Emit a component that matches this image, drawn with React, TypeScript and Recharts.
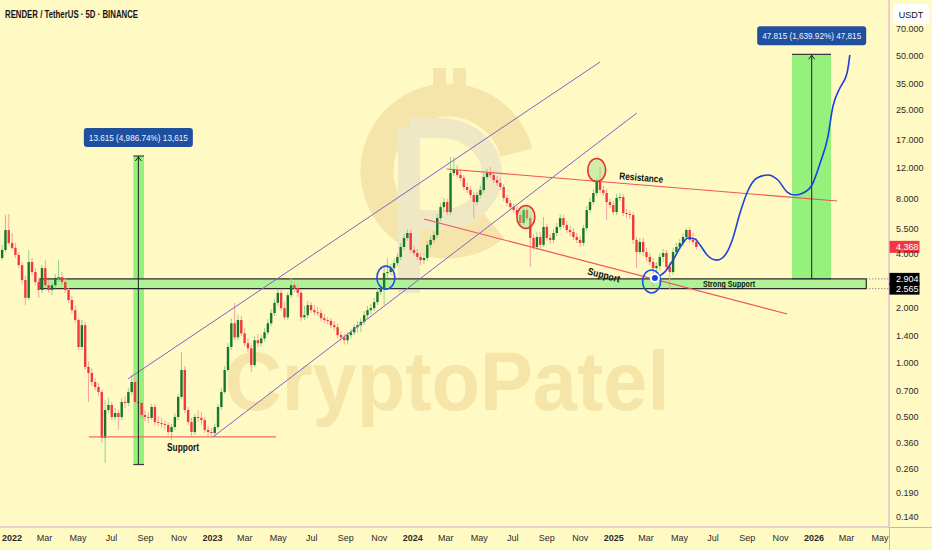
import React from "react";
import {
  ComposedChart,
  Bar,
  Line,
  XAxis,
  YAxis,
  ReferenceArea,
  ReferenceLine,
  ReferenceDot,
} from "recharts";

// ---- axis setup (days since 2022-01-01, price in USDT on a log scale)
const X_MIN = -21.9;
const X_MAX = 1597.4;
const Y_MIN = 0.1232;
const Y_MAX = 101.3;

const X_TICKS = [
  0, 59, 120, 181, 243, 304, 365, 424, 485, 546, 608, 669, 730, 790, 851, 912,
  974, 1035, 1096, 1155, 1216, 1277, 1339, 1400, 1461, 1520, 1581,
];
const X_TICK_LABELS = [
  "2022", "Mar", "May", "Jul", "Sep", "Nov",
  "2023", "Mar", "May", "Jul", "Sep", "Nov",
  "2024", "Mar", "May", "Jul", "Sep", "Nov",
  "2025", "Mar", "May", "Jul", "Sep", "Nov",
  "2026", "Mar", "May",
];
const Y_TICKS = [70, 50, 35, 25, 17, 12, 8, 5.5, 4, 2, 1.4, 1, 0.7, 0.5, 0.36, 0.26, 0.19, 0.14];

// ---- candles
const START_DAY = -18;
const CANDLE_DAYS = 6.05;
const firstOpen = 3.79;

const closes = [
  4.2, 5.41, 4.59, 4.31, 3.94, 3.46, 2.86, 2.28, 3.6, 3.17,
  2.79, 2.52, 3.33, 2.68, 2.52, 2.68, 2.94, 2.97, 2.79, 2.52,
  2.22, 1.95, 1.72, 1.22, 1.61, 0.946, 0.876, 0.781, 0.733, 0.688,
  0.383, 0.547, 0.583, 0.5, 0.526, 0.5, 0.605, 0.598, 0.688, 0.781,
  0.605, 0.598, 0.513, 0.5, 0.494, 0.568, 0.469, 0.463, 0.458, 0.452,
  0.413, 0.44, 0.5, 0.646, 0.91, 0.547, 0.469, 0.413, 0.5, 0.494,
  0.481, 0.424, 0.413, 0.408, 0.44, 0.568, 0.688, 0.91, 1.22, 1.65,
  1.38, 1.72, 1.45, 1.28, 1.2, 0.97, 1.33, 1.28, 1.36, 1.47,
  1.65, 1.88, 2.14, 2.43, 2.0, 1.78, 2.36, 2.68, 2.58, 2.43,
  1.78, 1.83, 2.08, 1.95, 1.9, 1.88, 1.76, 1.72, 1.7, 1.61,
  1.57, 1.42, 1.38, 1.33, 1.42, 1.47, 1.57, 1.61, 1.68, 1.83,
  1.95, 2.0, 2.16, 2.46, 2.58, 3.13, 3.17, 3.33, 3.55, 3.84,
  4.36, 4.89, 5.21, 4.2, 4.04, 3.84, 3.69, 3.79, 4.48, 4.77,
  5.08, 6.3, 7.25, 7.73, 6.8, 11.18, 11.62, 10.9, 10.49, 9.36,
  9.01, 8.45, 7.73, 8.45, 9.01, 10.63, 11.18, 10.9, 10.23, 9.85,
  9.36, 8.14, 7.63, 7.25, 6.98, 6.55, 5.92, 6.98, 6.3, 4.89,
  4.36, 4.95, 4.48, 5.63, 4.89, 4.77, 5.21, 5.63, 6.3, 5.77,
  5.41, 5.27, 4.95, 4.77, 4.59, 5.55, 6.98, 7.73, 8.67, 9.97,
  9.01, 8.67, 7.73, 7.44, 6.8, 8.14, 8.24, 6.72, 6.63, 6.55,
  4.77, 4.09, 4.65, 4.09, 3.84, 3.6, 3.33, 3.42, 3.84, 4.04,
  3.38, 3.17, 4.09, 4.36, 4.59, 4.95, 5.41, 4.77, 4.65, 4.36,
];

const highs = [
  4.48, 6.55, 6.63, 5.21, 4.59, 4.09, 3.6, 3.01, 4.2, 3.79,
  3.33, 2.94, 3.46, 3.69, 2.86, 2.79, 3.09, 3.69, 3.17, 2.94,
  2.58, 2.33, 2.06, 1.76, 1.72, 1.68, 1.01, 0.934, 0.822, 0.771,
  0.706, 0.621, 0.638, 0.605, 0.561, 0.547, 0.638, 0.654, 0.723, 0.854,
  0.822, 0.638, 0.621, 0.547, 0.533, 0.59, 0.59, 0.507, 0.494, 0.481,
  0.469, 0.458, 0.526, 0.671, 1.14, 0.958, 0.568, 0.494, 0.52, 0.547,
  0.533, 0.5, 0.446, 0.435, 0.458, 0.59, 0.723, 0.958, 1.28, 1.76,
  2.14, 1.83, 1.81, 1.55, 1.36, 1.25, 1.4, 1.44, 1.42, 1.55,
  1.74, 1.98, 2.25, 2.55, 2.52, 2.16, 2.46, 2.94, 2.79, 2.72,
  2.52, 2.06, 2.19, 2.16, 2.08, 2.03, 1.98, 1.85, 1.78, 1.76,
  1.7, 1.65, 1.49, 1.45, 1.47, 1.53, 1.63, 1.7, 1.76, 1.93,
  2.06, 2.11, 2.28, 2.58, 2.72, 3.33, 3.79, 3.51, 3.75, 4.04,
  4.59, 5.14, 5.48, 5.41, 4.42, 4.25, 4.04, 3.99, 4.71, 5.01,
  5.34, 6.63, 7.63, 8.14, 8.03, 13.72, 13.72, 12.39, 11.62, 10.9,
  9.85, 9.48, 8.78, 8.78, 9.48, 11.18, 11.77, 12.07, 11.47, 10.77,
  10.49, 9.72, 8.45, 7.93, 7.54, 7.35, 6.8, 7.35, 7.44, 6.55,
  5.14, 5.27, 5.27, 6.38, 5.84, 5.14, 5.48, 5.92, 6.63, 6.55,
  6.07, 5.7, 5.55, 5.21, 5.01, 5.77, 7.35, 8.14, 9.12, 10.49,
  12.07, 9.48, 9.12, 8.03, 7.83, 8.56, 8.67, 8.56, 7.07, 6.98,
  6.8, 4.95, 4.89, 4.89, 4.31, 4.04, 3.79, 3.6, 4.04, 4.25,
  4.2, 3.6, 4.31, 4.59, 4.82, 5.21, 5.55, 5.63, 5.21, 4.89,
];

const lows = [
  3.69, 4.09, 4.48, 4.2, 3.79, 3.33, 2.72, 2.08, 2.22, 3.05,
  2.68, 2.28, 2.43, 2.58, 2.43, 2.36, 2.58, 2.79, 2.68, 2.43,
  2.14, 1.88, 1.65, 1.174, 1.174, 0.91, 0.605, 0.742, 0.706, 0.654,
  0.36, 0.278, 0.526, 0.481, 0.481, 0.424, 0.481, 0.561, 0.575, 0.662,
  0.583, 0.561, 0.494, 0.475, 0.463, 0.481, 0.452, 0.446, 0.435, 0.424,
  0.398, 0.373, 0.424, 0.481, 0.63, 0.526, 0.452, 0.393, 0.398, 0.469,
  0.452, 0.408, 0.393, 0.388, 0.388, 0.429, 0.547, 0.671, 0.887, 1.174,
  1.33, 1.33, 1.4, 1.23, 1.14, 0.887, 0.946, 1.22, 1.23, 1.31,
  1.42, 1.59, 1.81, 2.06, 1.93, 1.72, 1.72, 2.28, 2.46, 2.31,
  1.7, 1.72, 1.76, 1.88, 1.83, 1.81, 1.7, 1.65, 1.63, 1.55,
  1.51, 1.36, 1.33, 1.26, 1.26, 1.36, 1.42, 1.47, 1.47, 1.61,
  1.76, 1.85, 1.93, 2.08, 2.36, 2.08, 2.94, 3.05, 3.21, 3.42,
  3.69, 4.2, 4.71, 4.04, 3.89, 3.69, 3.46, 3.51, 3.64, 4.31,
  4.59, 4.89, 6.07, 6.8, 6.55, 6.55, 10.77, 10.49, 10.1, 9.01,
  8.67, 8.14, 6.3, 7.44, 8.14, 8.67, 10.23, 10.49, 9.85, 9.48,
  9.01, 7.83, 7.35, 6.98, 6.72, 6.3, 5.7, 5.77, 6.07, 3.38,
  4.2, 4.2, 4.31, 4.36, 4.71, 4.53, 4.59, 5.01, 5.41, 5.55,
  5.21, 5.01, 4.77, 4.59, 4.36, 4.42, 5.34, 6.72, 7.44, 8.35,
  8.67, 8.35, 6.15, 7.16, 6.55, 6.55, 7.83, 6.47, 6.3, 6.22,
  4.53, 3.33, 3.94, 3.89, 3.64, 3.46, 2.62, 2.86, 3.25, 3.6,
  3.25, 2.52, 3.05, 3.94, 4.2, 4.42, 4.77, 4.59, 4.48, 4.2,
];

// ---- projected path (blue curve)
const projDays = [
  1171, 1189, 1204, 1220, 1231, 1244, 1253, 1266, 1284, 1299, 1312, 1326,
  1341, 1357, 1377, 1395, 1412, 1426, 1441, 1457, 1472, 1486, 1495, 1508, 1521, 1526,
];
const projPrices = [
  2.94, 3.17, 3.69, 4.48, 4.89, 4.82, 4.48, 3.94, 3.69, 3.94, 4.77, 6.72,
  9.01, 10.49, 10.9, 10.23, 8.78, 8.45, 8.67, 9.6, 12.72, 17.69, 25.93, 33.03, 39.97, 50.27,
];

// ---- drawn levels and trend lines: [day, price] pairs
const supportLow = [[140, 0.388], [481, 0.388]];
const channelUpper = [[211, 0.812], [1071, 45.98]];
const channelLower = [[366, 0.388], [1138, 24.0]];
const resistanceLine = [[792, 11.77], [1503, 7.83]];
const supportLine = [[750, 6.23], [1412, 1.857]];
const strongSupport = { from: 51, to: 1556, low: 2.565, high: 2.904 };

// measurement boxes: [dayFrom, dayTo, arrowDay, priceLow, priceHigh, label]
const measures: [number, number, number, number, number, string][] = [
  [221, 240.4, 230.1, 0.273, 13.888, "13.615 (4,986.74%) 13,615"],
  [1420.8, 1491.8, 1456.6, 2.9157, 50.73, "47.815 (1,639.92%) 47,815"],
];

const redCircles = [[936, 6.39], [1065, 11.62]];
const blueCircles = [[681, 2.95], [1165, 2.81]];

const lastPrice = 4.368;

const BG = "#fff9c4";
const UP_BODY = "#17762b";
const UP_WICK = "#8fd48a";
const DOWN_BODY = "#f2383e";
const DOWN_WICK = "#f5a2a2";
const AXIS = "#d6a4d8";
const FONT = "'Liberation Sans', Arial, sans-serif";
const CHART_W = 932;
const CHART_H = 550;

const candles = closes.map((c, i) => ({
  t: START_DAY + i * CANDLE_DAYS,
  open: i === 0 ? firstOpen : closes[i - 1],
  close: c,
  high: highs[i],
  low: lows[i],
  range: [lows[i], highs[i]],
}));

const projection = projDays.map((t, i) => ({ t, price: projPrices[i] }));

function Candle(props: any) {
  const { x, y, width, height, payload } = props;
  if (x == null || y == null || !payload) return null;
  const { open, close, high, low } = payload;
  const top = Math.log(high);
  const span = top - Math.log(low);
  const toY = (v: number) => (span > 0 ? y + (height * (top - Math.log(v))) / span : y);
  const cx = x + width / 2;
  const up = close >= open;
  const yo = toY(open);
  const yc = toY(close);
  return (
    <g>
      <line x1={cx} x2={cx} y1={y} y2={y + height} stroke={up ? UP_WICK : DOWN_WICK} strokeWidth={1} />
      <rect
        x={cx - 1.2}
        y={Math.min(yo, yc)}
        width={2.4}
        height={Math.max(1, Math.abs(yc - yo))}
        fill={up ? UP_BODY : DOWN_BODY}
      />
    </g>
  );
}

const textMark =
  (text: string, w: number, size = 10, rotate = 0) =>
  (p: any) => (
    <text
      x={p.cx}
      y={p.cy}
      textAnchor="middle"
      dominantBaseline="central"
      fontSize={size}
      fontWeight={700}
      fill="#111"
      fontFamily={FONT}
      textLength={w}
      lengthAdjust="spacingAndGlyphs"
      transform={rotate ? `rotate(${rotate} ${p.cx} ${p.cy})` : undefined}
    >
      {text}
    </text>
  );

const measureLabel = (text: string) => (p: any) => (
  <g>
    <rect x={p.cx - 54.5} y={p.cy - 28} width={109} height={19} rx={3} fill="#1f4f9f" />
    <text
      x={p.cx}
      y={p.cy - 18.5}
      textAnchor="middle"
      dominantBaseline="central"
      fontSize={9.5}
      fill="#eef2fb"
      fontFamily={FONT}
      textLength={99}
      lengthAdjust="spacingAndGlyphs"
    >
      {text}
    </text>
  </g>
);

const arrowHead = (p: any) => (
  <polyline
    points={`${p.cx - 3},${p.cy + 5} ${p.cx},${p.cy + 1} ${p.cx + 3},${p.cy + 5}`}
    fill="none"
    stroke="#222"
    strokeWidth={1}
  />
);

const ring = (color: string, fill: string) => (p: any) => (
  <ellipse cx={p.cx} cy={p.cy} rx={9} ry={11.5} fill={fill} stroke={color} strokeWidth={1.6} />
);

const priceTag = (text: string, bg: string) => (p: any) => (
  <g>
    <rect x={p.cx + 0.5} y={p.cy - 6} width={30} height={12} fill={bg} />
    <text x={p.cx + 7} y={p.cy} dominantBaseline="central" fontSize={9} fill="#fff" fontFamily={FONT}>
      {text}
    </text>
  </g>
);

const XTick = (props: any) => {
  const { x, y, payload } = props;
  const idx = X_TICKS.indexOf(payload.value);
  const label = X_TICK_LABELS[idx] ?? "";
  const isYear = /^\d{4}$/.test(label);
  return (
    <text
      x={x}
      y={y}
      dy="0.71em"
      textAnchor="middle"
      fontSize={9}
      fontWeight={isYear ? 700 : 400}
      fill="#2b2b2b"
      fontFamily={FONT}
    >
      {label}
    </text>
  );
};

const YTick = (props: any) => {
  const { x, y, payload } = props;
  return (
    <text x={x - 1} y={y} dy="0.35em" textAnchor="start" fontSize={9} fill="#2b2b2b" fontFamily={FONT}>
      {Number(payload.value).toFixed(3)}
    </text>
  );
};

function Watermark() {
  const cx = 448;
  const cy = 171;
  const r = 71;
  const a1 = (-15 * Math.PI) / 180;
  const a2 = (50 * Math.PI) / 180;
  const p1 = [cx + r * Math.cos(a1), cy + r * Math.sin(a1)];
  const p2 = [cx + r * Math.cos(a2), cy + r * Math.sin(a2)];
  const gold = "#f6e5aa";
  const grey = "#efe8c4";
  return (
    <svg width={CHART_W} height={CHART_H} style={{ position: "absolute", left: 0, top: 0 }}>
      <path d={`M ${p1[0]} ${p1[1]} A ${r} ${r} 0 1 0 ${p2[0]} ${p2[1]}`} stroke={gold} strokeWidth={33} fill="none" />
      <rect x={433} y={68} width={13} height={18} fill={gold} />
      <rect x={453} y={68} width={13} height={18} fill={gold} />
      <rect x={398} y={128} width={22} height={165} fill={grey} />
      <path d="M 410 128 H 440 A 52 46 0 0 1 440 220 H 410" stroke={grey} strokeWidth={20} fill="none" />
      <text
        x={447}
        y={410}
        textAnchor="middle"
        fontSize={84}
        fontWeight={700}
        fill="#f5e5a8"
        fontFamily={FONT}
        textLength={445}
        lengthAdjust="spacingAndGlyphs"
      >
        CryptoPatel
      </text>
    </svg>
  );
}

// the same axes for both layers; the back layer keeps them invisible
function axes(visible: boolean) {
  return [
    <XAxis
      key="x"
      type="number"
      dataKey="t"
      domain={[X_MIN, X_MAX]}
      allowDataOverflow
      ticks={X_TICKS}
      interval={0}
      height={23}
      tickLine={false}
      axisLine={visible ? { stroke: AXIS } : false}
      tick={visible ? <XTick /> : false}
    />,
    <YAxis
      key="y"
      orientation="right"
      type="number"
      scale="log"
      domain={[Y_MIN, Y_MAX]}
      allowDataOverflow
      ticks={Y_TICKS}
      interval={0}
      width={43}
      tickLine={false}
      axisLine={visible ? { stroke: AXIS } : false}
      tick={visible ? <YTick /> : false}
    />,
  ];
}

const MARGIN = { top: 0, right: 0, bottom: 0, left: 0 };

export default function App() {
  return (
    <div style={{ position: "relative", width: CHART_W, height: CHART_H, background: BG, overflow: "hidden" }}>
      <style>{`body{margin:0}`}</style>
      <Watermark />

      {/* back layer: shaded zones sit under the candles */}
      <div style={{ position: "absolute", left: 0, top: 0 }}>
        <ComposedChart width={CHART_W} height={CHART_H} data={candles} margin={MARGIN}>
          {axes(false)}
          {measures.map((m, i) => (
            <ReferenceArea
              key={`ma${i}`}
              x1={m[0]}
              x2={m[1]}
              y1={m[3]}
              y2={m[4]}
              fill="#96f07c"
              fillOpacity={1}
              ifOverflow="visible"
            />
          ))}
          <ReferenceArea
            x1={strongSupport.from}
            x2={strongSupport.to}
            y1={strongSupport.low}
            y2={strongSupport.high}
            fill="#b0f396"
            fillOpacity={1}
            stroke="#2b2b2b"
            strokeWidth={1.2}
            ifOverflow="visible"
          />
        </ComposedChart>
      </div>

      {/* front layer */}
      <div style={{ position: "absolute", left: 0, top: 0 }}>
        <ComposedChart width={CHART_W} height={CHART_H} data={candles} margin={MARGIN}>
          {axes(true)}

          <Bar dataKey="range" barSize={3} shape={(p: any) => <Candle {...p} />} isAnimationActive={false} />

          <ReferenceLine segment={[{ x: supportLow[0][0], y: supportLow[0][1] }, { x: supportLow[1][0], y: supportLow[1][1] }]} stroke="#f06a6a" strokeWidth={1.2} ifOverflow="visible" />
          <ReferenceLine segment={[{ x: channelUpper[0][0], y: channelUpper[0][1] }, { x: channelUpper[1][0], y: channelUpper[1][1] }]} stroke="#8460c8" strokeWidth={1} ifOverflow="visible" />
          <ReferenceLine segment={[{ x: channelLower[0][0], y: channelLower[0][1] }, { x: channelLower[1][0], y: channelLower[1][1] }]} stroke="#8460c8" strokeWidth={1} ifOverflow="visible" />
          <ReferenceLine segment={[{ x: resistanceLine[0][0], y: resistanceLine[0][1] }, { x: resistanceLine[1][0], y: resistanceLine[1][1] }]} stroke="#f2535a" strokeWidth={1.2} ifOverflow="visible" />
          <ReferenceLine segment={[{ x: supportLine[0][0], y: supportLine[0][1] }, { x: supportLine[1][0], y: supportLine[1][1] }]} stroke="#f2535a" strokeWidth={1.2} ifOverflow="visible" />
          <ReferenceLine segment={[{ x: strongSupport.to, y: strongSupport.high }, { x: X_MAX, y: strongSupport.high }]} stroke="#666" strokeDasharray="1 2" ifOverflow="visible" />
          <ReferenceLine segment={[{ x: strongSupport.to, y: strongSupport.low }, { x: X_MAX, y: strongSupport.low }]} stroke="#666" strokeDasharray="1 2" ifOverflow="visible" />

          {measures.flatMap((m, i) => [
            <ReferenceLine key={`mt${i}`} segment={[{ x: m[0], y: m[4] }, { x: m[1], y: m[4] }]} stroke="#3a3a3a" strokeWidth={1.2} ifOverflow="visible" />,
            <ReferenceLine key={`mb${i}`} segment={[{ x: m[0], y: m[3] }, { x: m[1], y: m[3] }]} stroke="#3a3a3a" strokeWidth={1.2} ifOverflow="visible" />,
            <ReferenceLine key={`mv${i}`} segment={[{ x: m[2], y: m[3] }, { x: m[2], y: m[4] }]} stroke="#222" strokeWidth={1} ifOverflow="visible" />,
          ])}

          <Line
            data={projection}
            dataKey="price"
            type="monotone"
            stroke="#1d3fe0"
            strokeWidth={1.6}
            dot={false}
            isAnimationActive={false}
          />

          {redCircles.map((c, i) => (
            <ReferenceDot key={`rc${i}`} x={c[0]} y={c[1]} r={10} shape={ring("#e53238", "rgba(150,225,130,0.45)")} ifOverflow="visible" />
          ))}
          {blueCircles.map((c, i) => (
            <ReferenceDot key={`bc${i}`} x={c[0]} y={c[1]} r={10} shape={ring("#1f4fe6", "none")} ifOverflow="visible" />
          ))}

          {measures.flatMap((m, i) => [
            <ReferenceDot key={`ah${i}`} x={m[2]} y={m[4]} r={1} shape={arrowHead} ifOverflow="visible" />,
            <ReferenceDot key={`ml${i}`} x={m[2]} y={m[4]} r={1} shape={measureLabel(m[5])} ifOverflow="visible" />,
          ])}

          <ReferenceDot x={1306} y={2.729} r={1} shape={textMark("Strong Support", 52, 9)} ifOverflow="visible" />
          <ReferenceDot x={1146} y={10.56} r={1} shape={textMark("Resistance", 44, 10, 4.7)} ifOverflow="visible" />
          <ReferenceDot x={1078} y={3.05} r={1} shape={textMark("Support", 33, 10, 14.7)} ifOverflow="visible" />
          <ReferenceDot x={311.5} y={0.341} r={1} shape={textMark("Support", 32, 10)} ifOverflow="visible" />

          <ReferenceDot x={X_MAX} y={lastPrice} r={1} shape={priceTag(lastPrice.toFixed(3), "#f23645")} ifOverflow="visible" />
          <ReferenceDot x={X_MAX} y={strongSupport.high} r={1} shape={priceTag(strongSupport.high.toFixed(3), "#000")} ifOverflow="visible" />
          <ReferenceDot x={X_MAX} y={strongSupport.low} r={1} shape={priceTag(strongSupport.low.toFixed(3), "#000")} ifOverflow="visible" />
        </ComposedChart>
      </div>

      <svg width={CHART_W} height={CHART_H} style={{ position: "absolute", left: 0, top: 0, pointerEvents: "none" }}>
        <text x={5} y={17.5} fontSize={10.5} fontWeight={700} fill="#131313" fontFamily={FONT} textLength={133} lengthAdjust="spacingAndGlyphs">
          RENDER / TetherUS · 5D · BINANCE
        </text>
        <rect x={893} y={4} width={36} height={20} rx={3} fill="#fff" />
        <text x={911} y={14.5} textAnchor="middle" dominantBaseline="central" fontSize={9} fill="#131313" fontFamily={FONT}>
          USDT
        </text>
        <line x1={889} x2={932} y1={527.5} y2={527.5} stroke={AXIS} />
        <line x1={889.5} x2={889.5} y1={527} y2={550} stroke={AXIS} />
      </svg>
    </div>
  );
}
